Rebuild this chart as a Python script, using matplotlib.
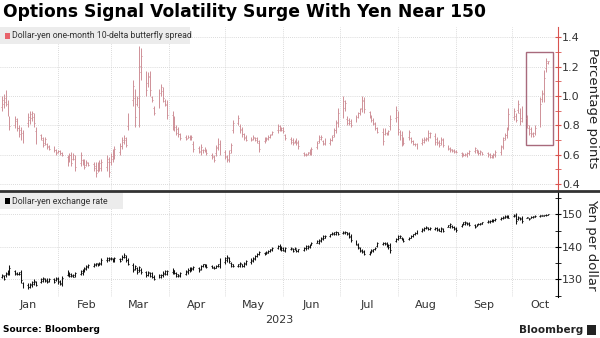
import pandas as pd
import matplotlib
matplotlib.use("Agg")
import matplotlib.pyplot as plt
import matplotlib.dates as mdates
from matplotlib.lines import Line2D
from matplotlib.patches import Rectangle

# trading days shown on the chart
days = pd.bdate_range("2023-01-02", "2023-10-20")

# dollar-yen 1m 10-delta butterfly, daily (low, high), one line per week
bfly = [
    (0.90, 1.00), (0.92, 1.01), (0.93, 1.04), (0.86, 0.97), (0.77, 0.86),
    (0.78, 0.86), (0.76, 0.85), (0.72, 0.80), (0.70, 0.79), (0.68, 0.77),
    (0.79, 0.88), (0.81, 0.90), (0.83, 0.90), (0.79, 0.88), (0.67, 0.79),
    (0.70, 0.74), (0.65, 0.72), (0.665, 0.72), (0.64, 0.68), (0.63, 0.665),
    (0.62, 0.66), (0.60, 0.64), (0.61, 0.63), (0.60, 0.63), (0.59, 0.62),
    (0.52, 0.60), (0.55, 0.61), (0.52, 0.62), (0.56, 0.61), (0.49, 0.60),
    (0.52, 0.62), (0.53, 0.57), (0.50, 0.57), (0.52, 0.56), (0.52, 0.55),
    (0.49, 0.55), (0.45, 0.55), (0.48, 0.55), (0.49, 0.56), (0.49, 0.57),
    (0.49, 0.60), (0.45, 0.58), (0.53, 0.61), (0.55, 0.64), (0.57, 0.66),
    (0.60, 0.68), (0.64, 0.72), (0.67, 0.73), (0.65, 0.72), (0.77, 0.88),
    (0.93, 1.11), (0.79, 1.05), (0.93, 1.00), (0.79, 1.34), (1.11, 1.33),
    (1.00, 1.17), (1.06, 1.16), (1.00, 1.17), (0.96, 1.00), (0.87, 0.93),
    (0.92, 1.05), (1.00, 1.08), (0.96, 1.06), (0.93, 0.98), (0.84, 0.97),
    (0.77, 0.90), (0.76, 0.86), (0.73, 0.80), (0.72, 0.79), (0.70, 0.75),
    (0.70, 0.73), (0.71, 0.73), (0.70, 0.73), (0.70, 0.73), (0.62, 0.69),
    (0.61, 0.66), (0.60, 0.67), (0.61, 0.64), (0.62, 0.65), (0.60, 0.64),
    (0.57, 0.61), (0.55, 0.60), (0.59, 0.665), (0.63, 0.71), (0.60, 0.70),
    (0.57, 0.63), (0.55, 0.60), (0.55, 0.63), (0.61, 0.68), (0.745, 0.835),
    (0.80, 0.87), (0.75, 0.81), (0.72, 0.79), (0.70, 0.75), (0.69, 0.73),
    (0.69, 0.72), (0.70, 0.73), (0.69, 0.72), (0.68, 0.72), (0.62, 0.70),
    (0.68, 0.72), (0.69, 0.72), (0.70, 0.73), (0.71, 0.74), (0.73, 0.76),
    (0.75, 0.81), (0.76, 0.80), (0.76, 0.79), (0.75, 0.79), (0.70, 0.74),
    (0.675, 0.72), (0.665, 0.71), (0.68, 0.70), (0.665, 0.71), (0.64, 0.70),
    (0.59, 0.62), (0.59, 0.61), (0.60, 0.62), (0.60, 0.64), (0.60, 0.65),
    (0.64, 0.69), (0.68, 0.73), (0.70, 0.73), (0.665, 0.70), (0.665, 0.71),
    (0.665, 0.71), (0.69, 0.73), (0.72, 0.78), (0.745, 0.835), (0.79, 0.915),
    (0.85, 1.00), (0.90, 0.97), (0.80, 0.86), (0.80, 0.85), (0.79, 0.84),
    (0.82, 0.87), (0.85, 0.89), (0.87, 0.92), (0.89, 1.00), (0.88, 0.99),
    (0.85, 0.90), (0.82, 0.87), (0.80, 0.85), (0.77, 0.82), (0.745, 0.79),
    (0.665, 0.78), (0.73, 0.78), (0.73, 0.755), (0.73, 0.77), (0.77, 0.87),
    (0.82, 0.93), (0.73, 0.90), (0.70, 0.77), (0.655, 0.76), (0.665, 0.72),
    (0.70, 0.77), (0.68, 0.72), (0.665, 0.70), (0.655, 0.68), (0.64, 0.68),
    (0.665, 0.71), (0.676, 0.72), (0.69, 0.72), (0.69, 0.767), (0.71, 0.756),
    (0.665, 0.745), (0.665, 0.72), (0.654, 0.70), (0.665, 0.72), (0.654, 0.71),
    (0.63, 0.665), (0.62, 0.654), (0.62, 0.64), (0.61, 0.64), (0.61, 0.63),
    (0.585, 0.62), (0.59, 0.61), (0.59, 0.61), (0.585, 0.62), (0.60, 0.63),
    (0.61, 0.654), (0.61, 0.64), (0.60, 0.63), (0.60, 0.63), (0.60, 0.62),
    (0.585, 0.62), (0.574, 0.61), (0.574, 0.60), (0.574, 0.61), (0.585, 0.63),
    (0.60, 0.665), (0.64, 0.72), (0.70, 0.745), (0.71, 0.79), (0.77, 0.915),
    (0.835, 0.915), (0.82, 0.88), (0.88, 0.97), (0.80, 0.915), (0.82, 0.93),
    (0.78, 0.87), (0.73, 0.80), (0.72, 0.79), (0.72, 0.756), (0.73, 0.80),
    (0.79, 0.995), (0.96, 1.04), (0.96, 1.18), (1.165, 1.26), (1.22, 1.24),
]

# dollar-yen spot, daily (low, high)
usdjpy = [
    (130.3, 131.6), (129.9, 131.3), (130.9, 132.4), (131.4, 133.0), (131.3, 134.4),
    (131.3, 132.9), (131.3, 132.4), (131.4, 132.4), (128.9, 132.8), (127.5, 129.3),
    (127.2, 128.8), (127.3, 129.0), (127.8, 129.6), (128.3, 130.0), (127.9, 129.5),
    (128.8, 130.4), (129.3, 130.8), (129.3, 130.3), (128.8, 130.3), (129.3, 130.3),
    (128.9, 130.4), (129.4, 130.6), (128.6, 130.8), (128.2, 129.8), (128.1, 131.2),
    (131.0, 132.9), (130.8, 132.2), (130.6, 131.9), (130.6, 131.8), (130.9, 132.4),
    (131.3, 132.9), (131.4, 133.3), (132.3, 133.9), (132.8, 134.4), (133.5, 134.7),
    (133.9, 135.0), (134.1, 135.2), (134.1, 135.0), (134.3, 135.4), (134.3, 136.5),
    (135.5, 136.9), (135.6, 137.0), (135.9, 137.0), (135.4, 136.6), (135.4, 137.0),
    (135.3, 136.5), (135.9, 137.4), (136.5, 138.0), (135.4, 137.5), (134.3, 136.6),
    (132.2, 135.1), (132.9, 134.4), (131.8, 133.9), (132.4, 134.1), (131.8, 133.4),
    (130.8, 132.7), (131.0, 132.6), (130.8, 132.4), (130.4, 132.4), (129.7, 131.3),
    (130.3, 131.8), (130.4, 131.8), (130.8, 132.5), (131.3, 132.9), (131.4, 133.0),
    (131.8, 133.4), (131.6, 133.0), (130.8, 132.4), (130.7, 131.8), (130.9, 132.4),
    (131.3, 132.9), (131.8, 133.4), (132.4, 133.9), (132.5, 133.9), (132.9, 134.1),
    (132.4, 133.9), (132.9, 134.4), (133.9, 134.9), (133.8, 134.9), (133.6, 134.6),
    (133.4, 134.4), (133.2, 134.0), (133.4, 134.4), (133.9, 134.9), (133.4, 136.5),
    (134.9, 137.0), (135.4, 137.5), (135.2, 137.0), (133.9, 135.4), (133.9, 134.9),
    (133.9, 134.9), (133.9, 135.4), (133.9, 134.9), (133.9, 135.4), (134.4, 135.9),
    (134.9, 136.5), (135.4, 137.0), (136.0, 137.5), (137.0, 138.0), (137.5, 138.7),
    (137.5, 138.5), (137.7, 138.8), (138.0, 139.0), (138.5, 139.5), (138.6, 140.0),
    (139.5, 140.6), (139.0, 140.9), (138.8, 140.2), (138.6, 139.9), (138.5, 140.0),
    (139.0, 140.0), (138.5, 139.8), (139.0, 140.0), (138.5, 139.5), (138.5, 139.5),
    (138.7, 140.0), (139.2, 140.5), (139.4, 140.6), (139.6, 141.0), (140.6, 141.6),
    (141.1, 142.1), (141.0, 142.4), (141.6, 143.1), (142.1, 143.6), (142.6, 143.8),
    (143.1, 144.1), (143.6, 144.7), (143.8, 144.7), (143.8, 144.8), (143.8, 144.7),
    (143.9, 144.9), (144.1, 144.9), (143.8, 144.7), (142.6, 144.7), (141.6, 144.1),
    (140.6, 142.1), (139.5, 141.1), (138.5, 140.0), (138.0, 139.5), (137.5, 139.0),
    (137.6, 138.9), (138.1, 139.5), (138.5, 139.5), (139.0, 140.0), (139.9, 141.6),
    (140.6, 141.6), (140.6, 141.5), (140.0, 141.5), (139.5, 141.0), (138.2, 141.2),
    (141.6, 142.8), (142.1, 143.6), (142.6, 143.6), (142.1, 143.1), (141.6, 142.6),
    (142.1, 143.1), (142.6, 143.6), (143.1, 144.1), (143.6, 144.7), (144.1, 145.2),
    (144.7, 145.7), (145.0, 146.0), (145.5, 146.5), (145.2, 146.2), (145.2, 146.2),
    (145.2, 146.2), (145.0, 146.0), (144.8, 145.7), (144.6, 146.2), (144.5, 145.7),
    (146.0, 146.9), (145.8, 147.4), (145.8, 146.7), (145.2, 146.3), (144.7, 146.2),
    (146.2, 147.0), (146.7, 147.8), (146.8, 147.9), (146.7, 147.7), (146.5, 147.6),
    (145.9, 147.2), (146.3, 147.2), (146.6, 147.3), (146.8, 147.5), (147.0, 147.7),
    (147.4, 148.3), (147.4, 148.3), (147.6, 148.6), (147.8, 148.6), (148.0, 148.8),
    (148.2, 149.2), (148.6, 149.6), (148.8, 149.8), (149.0, 149.8), (148.8, 149.8),
    (149.2, 150.0), (147.2, 150.3), (148.3, 149.5), (148.3, 149.2), (147.3, 149.5),
    (148.8, 149.3), (148.4, 149.0), (148.9, 149.4), (149.0, 149.6), (149.2, 149.8),
    (149.3, 149.9), (149.4, 149.9), (149.5, 149.9), (149.6, 150.0), (149.8, 150.1),
]

month_labels = ["Jan", "Feb", "Mar", "Apr", "May", "Jun", "Jul", "Aug", "Sep", "Oct"]
bfly_ticks = [0.4, 0.6, 0.8, 1.0, 1.2, 1.4]
yen_ticks = [130, 140, 150]

# highlight box around the October surge
box_dates = ["2023-10-08 03:00", "2023-10-22 22:00"]
box_values = [0.665, 1.297]

FONT = ["Liberation Sans Narrow", "Roboto", "DejaVu Sans"]
RED = "#d9534f"
BAR_RED = "#cf9198"
GRID = "#cfcfcf"


def draw_bars(ax, x, rng, color, lw, tick):
    lo = [r[0] for r in rng]
    hi = [r[1] for r in rng]
    ax.vlines(x, lo, hi, color=color, lw=lw)
    # open/close ticks
    prev = (lo[0] + hi[0]) / 2
    for xi, l, h in zip(x, lo, hi):
        mid = (l + h) / 2
        up = mid >= prev
        o = l + 0.25 * (h - l) if up else h - 0.25 * (h - l)
        c = h - 0.25 * (h - l) if up else l + 0.25 * (h - l)
        ax.hlines(o, xi - tick, xi, color=color, lw=lw)
        ax.hlines(c, xi, xi + tick, color=color, lw=lw)
        prev = mid


x = mdates.date2num(days)
x0 = mdates.date2num(pd.Timestamp("2023-01-01"))
xlim = (x0, x0 + 297.4)
month_starts = mdates.date2num(pd.date_range("2023-02-01", "2023-10-01", freq="MS"))
month_mids = mdates.date2num(pd.date_range("2023-01-01", "2023-10-01", freq="MS")) + 15

fig = plt.figure(figsize=(6, 3.38), dpi=100)
ax1 = fig.add_axes([0, 1 - 190 / 338, 558 / 600, 163 / 338])
ax2 = fig.add_axes([0, 1 - 297 / 338, 558 / 600, 105 / 338])

for ax in (ax1, ax2):
    ax.set_xlim(*xlim)
    for s in ("top", "left", "bottom"):
        ax.spines[s].set_visible(False)
    ax.yaxis.tick_right()
    for m in month_starts:
        ax.axvline(m, color=GRID, lw=0.6, ls=(0, (1, 1.5)), zorder=0)
    ax.set_xticks([])

# top panel
draw_bars(ax1, x, bfly, BAR_RED, 0.7, 0.45)
ax1.set_ylim(0.358, 1.47)
ax1.set_yticks(bfly_ticks)
ax1.set_yticks([0.5, 0.7, 0.9, 1.1, 1.3], minor=True)
ax1.set_yticklabels([f"{t:.1f}" for t in bfly_ticks], fontsize=8, color="#333333")
ax1.tick_params(axis="y", which="both", direction="inout", length=4, color=RED, pad=1)
ax1.spines["right"].set_color(RED)
for t in bfly_ticks:
    ax1.axhline(t, color=GRID, lw=0.6, ls=(0, (1, 1.5)), zorder=0)
bx = mdates.date2num(pd.to_datetime(box_dates))
ax1.add_patch(Rectangle((bx[0], box_values[0]), bx[1] - bx[0], box_values[1] - box_values[0],
                        fill=False, ec="#a86a7c", lw=1.0))
ax1.add_patch(Rectangle((0, 1 - 17 / 163), 190 / 558, 17 / 163, transform=ax1.transAxes,
                        fc="#ececec", ec="none", zorder=3))
ax1.add_patch(Rectangle((5 / 558, 1 - 12 / 163), 5 / 558, 6 / 163, transform=ax1.transAxes,
                        fc="#e8636b", ec="none", zorder=4))
ax1.text(12 / 558, 1 - 9 / 163, "Dollar-yen one-month 10-delta butterfly spread",
         transform=ax1.transAxes, fontsize=6.3, family=FONT, color="#333333", va="center", zorder=4)

# bottom panel
draw_bars(ax2, x, usdjpy, "#111111", 0.75, 0.5)
ax2.set_ylim(124.6, 156.9)
ax2.set_yticks(yen_ticks)
ax2.set_yticks([125, 135, 145, 155], minor=True)
ax2.set_yticklabels([str(t) for t in yen_ticks], fontsize=8, color="#333333")
ax2.tick_params(axis="y", which="both", direction="inout", length=4, color="black", pad=1)
for t in yen_ticks:
    ax2.axhline(t, color=GRID, lw=0.6, ls=(0, (1, 1.5)), zorder=0)
ax2.add_patch(Rectangle((0, 1 - 17 / 105), 123 / 558, 17 / 105, transform=ax2.transAxes,
                        fc="#ececec", ec="none", zorder=3))
ax2.add_patch(Rectangle((5 / 558, 1 - 12 / 105), 5 / 558, 6 / 105, transform=ax2.transAxes,
                        fc="black", ec="none", zorder=4))
ax2.text(12 / 558, 1 - 9 / 105, "Dollar-yen exchange rate",
         transform=ax2.transAxes, fontsize=6.3, family=FONT, color="#333333", va="center", zorder=4)

for m, lab in zip(month_mids, month_labels):
    ax2.text(m, -0.03, lab, transform=ax2.get_xaxis_transform(), ha="center", va="top",
             fontsize=8, color="#333333")
ax2.text(0.5, -0.17, "2023", transform=ax2.transAxes, ha="center", va="top",
         fontsize=8, color="#333333")

# separator between panels
fig.add_artist(Line2D([0, 1], [1 - 191.5 / 338] * 2, transform=fig.transFigure,
                      color="#333333", lw=2))

fig.text(0.005, 1 - 3 / 338, "Options Signal Volatility Surge With Yen Near 150",
         fontsize=12.3, fontweight="bold", va="top", ha="left")
fig.text(592 / 600, 1 - 108 / 338, "Percentage points", rotation=-90, ha="center", va="center",
         fontsize=9.5, color="#222222")
fig.text(592 / 600, 1 - 245 / 338, "Yen per dollar", rotation=-90, ha="center", va="center",
         fontsize=9.5, color="#222222")
fig.text(3 / 600, 1 - 330 / 338, "Source: Bloomberg", fontsize=6.5, fontweight="bold",
         va="center", ha="left")
fig.text(583 / 600, 1 - 330 / 338, "Bloomberg", fontsize=7.5, fontweight="bold",
         va="center", ha="right", color="#222222")
fig.add_artist(Rectangle((587 / 600, 1 - 335 / 338), 9 / 600, 10 / 338, transform=fig.transFigure,
                         fc="#222222", ec="none"))

fig.savefig("out.png", dpi=100)
